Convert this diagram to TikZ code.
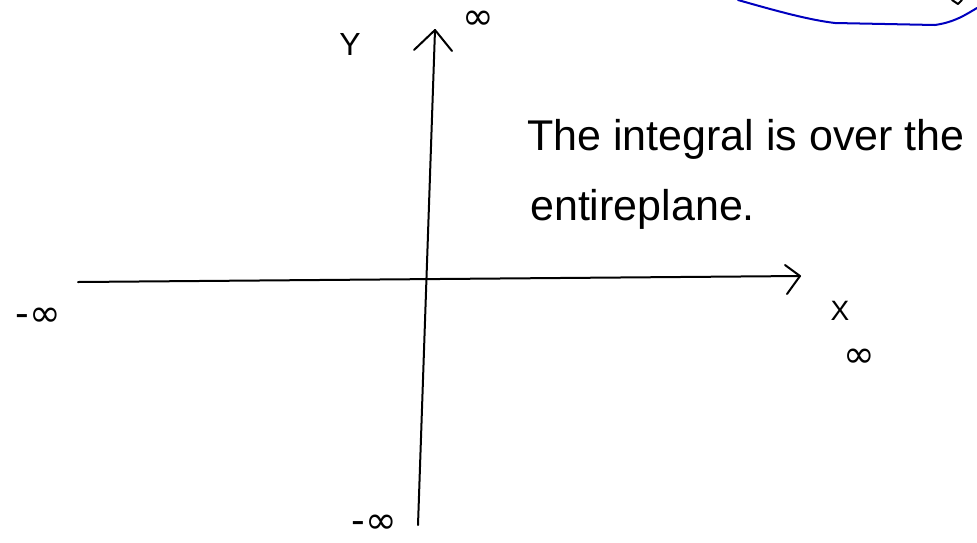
\documentclass[tikz,border=0pt]{standalone}
\usepackage{fontspec}
\setmainfont{Liberation Sans}
\newfontfamily\dvs{DejaVu Sans}
\begin{document}
\begin{tikzpicture}[x=1pt,y=-1pt,
  pen/.style={line width=2pt,line cap=round,line join=round,black},
  lbl/.style={inner sep=0pt,font=\fontsize{32}{34}\selectfont},
  inf/.style={inner sep=0pt,font=\dvs\fontsize{38}{40}\selectfont},
  txt/.style={inner sep=0pt,anchor=base west,font=\fontsize{43}{48}\selectfont}]
\useasboundingbox (0,0) rectangle (977,542);
\coordinate (xl) at (78,282);
\coordinate (xr) at (800,276);
\coordinate (yt) at (435,30);
\coordinate (yb) at (418,525);
\draw[pen] (xl) -- (xr);
\draw[pen] (785,265) -- (xr) -- (787,294);
\draw[pen] (yt) -- (yb);
\draw[pen] (414,50) -- (yt) -- (452,51);
\node[lbl] (ylab) at (350,44) {Y};
\node[inf] (yinf) at (478,20) {∞};
\node[inf] (xneg) at (38,317) {-∞};
\node[lbl,font=\fontsize{28}{30}\selectfont] (xlab) at (840,311) {X};
\node[inf] (xinf) at (859,358) {∞};
\node[inf] (yneg) at (374,524) {-∞};
\node[txt] (t1) at (527,150) {The integral is over the};
\node[txt] (t2) at (530,220) {entireplane.};
\draw[line width=2pt,color=blue!75!black,line cap=round] (738,0) .. controls (780,12) and (810,20) .. (835,23) -- (935,25) .. controls (955,22) and (965,15) .. (977,8);
\draw[pen] (952,0) -- (958,4) -- (962,0);
\end{tikzpicture}
\end{document}
